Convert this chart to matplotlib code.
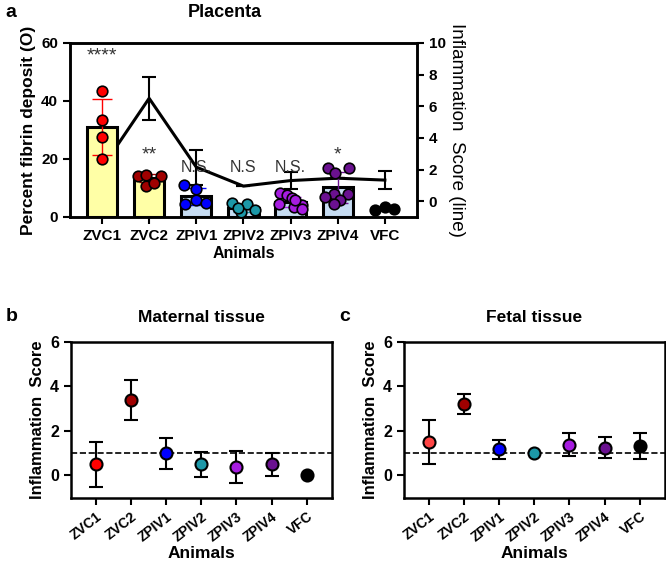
import matplotlib.pyplot as plt

animals = ['ZVC1', 'ZVC2', 'ZPIV1', 'ZPIV2', 'ZPIV3', 'ZPIV4', 'VFC']
colors = ['#FF0000', '#A00000', '#0000FF', '#1C98A8', '#A61CE0', '#6A1190', '#000000']
bar_colors = ['#FFFFA6', '#FFFFA6', '#C6DCF2', '#C6DCF2', '#C6DCF2', '#C6DCF2', 'none']

# panel a : percent fibrin deposit (points + mean bars)
fibrin_points = [
    [43.3, 33.6, 27.5, 20.0],
    [14.1, 14.4, 14.1, 10.8, 11.8],
    [11.0, 9.7, 5.9, 4.5, 4.9],
    [4.9, 1.8, 4.5, 2.4, 3.0],
    [8.1, 7.5, 6.4, 4.2, 4.0, 3.5, 2.8, 4.5, 6.0],
    [16.8, 15.0, 16.8, 8.0, 8.0, 7.0, 5.8, 4.3],
    [2.4, 3.6, 2.8],
]
fibrin_mean = [31.0, 13.4, 7.1, 3.0, 5.2, 10.2, 2.9]
fibrin_sd = [9.8, 1.5, 3.0, 1.3, 1.8, 5.3, 0.6]
sig_labels = ['****', '**', 'N.S.', 'N.S', 'N.S.', '*', '']
sig_y = [55.5, 21.5, 17, 17, 17, 21.5, 0]

# panel a : inflammation score (line)
placenta_score = [2.1, 6.5, 2.15, 0.95, 1.3, 1.45, 1.33]
placenta_err = [0.0, 1.35, 1.1, 0.0, 0.55, 0.0, 0.58]

# panel b, c : inflammation score
maternal_score = [0.5, 3.4, 1.0, 0.5, 0.38, 0.5, 0.0]
maternal_err = [1.0, 0.9, 0.7, 0.55, 0.73, 0.53, 0.0]
fetal_score = [1.5, 3.2, 1.17, 1.0, 1.38, 1.25, 1.33]
fetal_err = [1.0, 0.45, 0.41, 0.0, 0.52, 0.46, 0.57]
fetal_colors = ['#FF4545', '#A00000', '#0000FF', '#1C98A8', '#A61CE0', '#6A1190', '#000000']

# horizontal jitter of the points inside each group (layout only)
spreads = [
    [0, 0, 0, 0],
    [-0.24, -0.06, 0.25, -0.06, 0.1],
    [-0.25, 0.0, 0.0, -0.24, 0.2],
    [-0.24, -0.06, 0.08, 0.24, -0.12],
    [-0.22, -0.08, 0.03, 0.2, 0.25, 0.07, 0.25, -0.25, 0.1],
    [-0.2, -0.05, 0.24, -0.07, 0.22, -0.27, 0.05, -0.08],
    [-0.2, 0.0, 0.2],
]

plt.rcParams['font.family'] = 'Liberation Sans'
plt.rcParams['font.weight'] = 'bold'

fig = plt.figure(figsize=(6.66, 5.65), dpi=100)
x = list(range(len(animals)))

# ---------- panel a ----------
ax = fig.add_axes([0.105, 0.616, 0.521, 0.308])
ax2 = ax.twinx()
ax.set_zorder(ax2.get_zorder() + 1)
ax.patch.set_visible(False)

ax2.errorbar(x, placenta_score, yerr=placenta_err, color='black', lw=2.2,
             capsize=5, capthick=1.5, elinewidth=1.5, zorder=1)
ax2.set_ylim(-1, 10)
ax2.set_yticks([0, 2, 4, 6, 8, 10])
ax2.set_ylabel('Inflammation  Score (line)', rotation=270, labelpad=14,
               fontsize=13.5, fontweight='normal')

for i in x:
    if bar_colors[i] != 'none':
        ax.bar(i, fibrin_mean[i], width=0.64, color=bar_colors[i],
               edgecolor='black', lw=2.2, zorder=2)
    else:
        ax.plot([i - 0.2, i + 0.2], [fibrin_mean[i]] * 2, color='black', lw=1.2, zorder=2)
    ax.errorbar(i, fibrin_mean[i], yerr=fibrin_sd[i], color=colors[i], lw=1,
                capsize=7, zorder=3)
    xs = [i + d for d in spreads[i]]
    ax.scatter(xs, fibrin_points[i], s=58, color=colors[i], edgecolor='black',
               lw=1.2, zorder=4, clip_on=False)
    if sig_labels[i]:
        ax.text(i, sig_y[i], sig_labels[i], ha='center', va='center',
                fontsize=11.5 if '*' not in sig_labels[i] else 14,
                fontweight='normal', color='#333333')

ax.set_xlim(-0.68, 6.68)
ax.set_ylim(0, 60)
ax.set_yticks([0, 20, 40, 60])
ax.set_xticks(x)
ax.set_xticklabels(animals)
ax.set_ylabel('Percent fibrin deposit (O)', fontsize=12.5, fontweight='bold')
ax.set_xlabel('Animals', fontsize=11.5, fontweight='bold', labelpad=2)
for a in (ax, ax2):
    for s in a.spines.values():
        s.set_linewidth(1.8)
    a.tick_params(width=1.5, length=5, labelsize=11)
fig.text(0.338, 0.978, 'Placenta', ha='center', va='center', fontsize=13, fontweight='bold')
fig.text(0.008, 0.978, 'a', ha='left', va='center', fontsize=14, fontweight='bold')


# ---------- panels b, c ----------
def score_panel(rect, scores, errs, cols, title, letter, lx):
    a = fig.add_axes(rect)
    a.axhline(1, color='black', ls='--', lw=1.2, zorder=1)
    for i in x:
        if errs[i] > 0:
            a.errorbar(i, scores[i], yerr=errs[i], color='black', lw=1.5,
                       capsize=5, capthick=1.5, zorder=2)
        a.scatter(i, scores[i], s=75, color=cols[i], edgecolor='black',
                  lw=1.5, zorder=3)
    a.set_xlim(-0.7, 6.72)
    a.set_ylim(-1, 6)
    a.set_yticks([0, 2, 4, 6])
    a.set_xticks(x)
    a.set_xticklabels(animals, rotation=38, ha='right', rotation_mode='anchor',
                      fontsize=10)
    a.set_ylabel('Inflammation  Score', fontsize=12, fontweight='bold')
    a.set_xlabel('Animals', fontsize=12.5, fontweight='bold', labelpad=1)
    for s in a.spines.values():
        s.set_linewidth(1.8)
    a.tick_params(width=1.5, length=5)
    a.tick_params(axis='y', labelsize=11.5)
    a.set_title(title, fontsize=12.5, fontweight='bold', pad=14)
    fig.text(lx, 0.44, letter, ha='left', va='center', fontsize=14, fontweight='bold')
    return a


score_panel([0.1066, 0.119, 0.392, 0.276], maternal_score, maternal_err, colors,
            'Maternal tissue', 'b', 0.008)
score_panel([0.6066, 0.119, 0.392, 0.276], fetal_score, fetal_err, fetal_colors,
            'Fetal tissue', 'c', 0.51)

fig.savefig('out.png', dpi=100)
